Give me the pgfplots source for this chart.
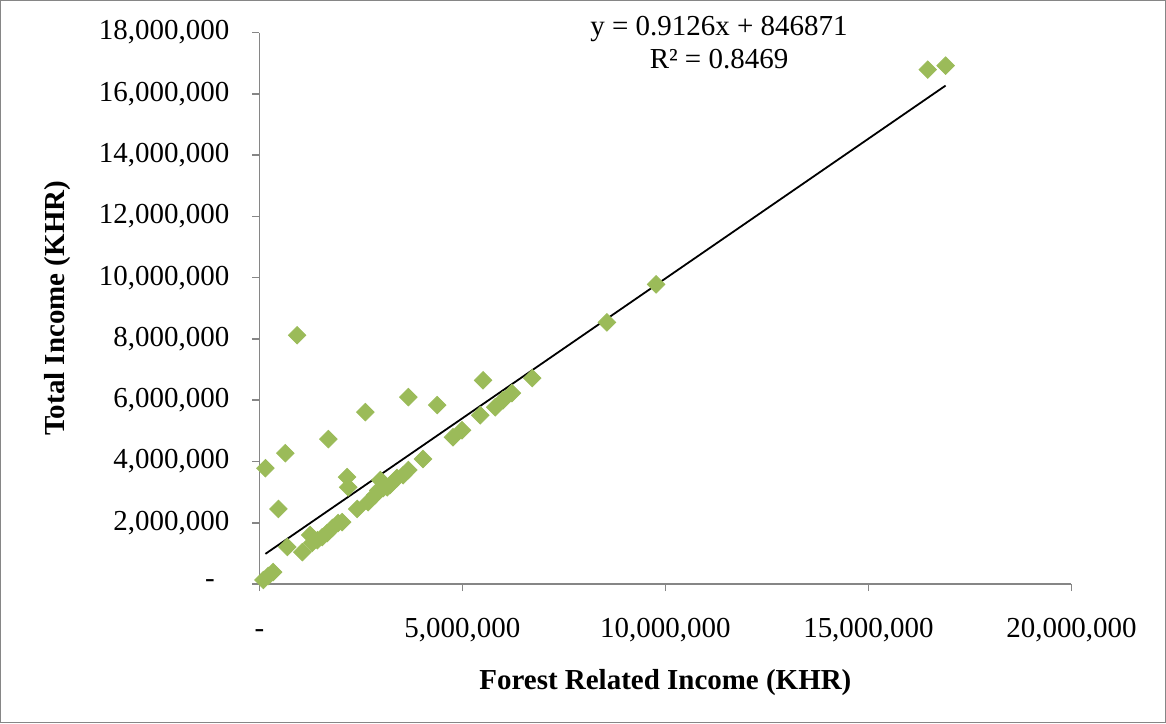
\documentclass[border=0pt]{standalone}
\usepackage{fontspec}
\setmainfont{Liberation Serif}
\usepackage{pgfplots}
\pgfplotsset{compat=1.18}
\definecolor{mkgreen}{RGB}{155,187,89}
\definecolor{axgray}{RGB}{134,134,134}
\begin{document}
\begin{tikzpicture}
  % chart area frame
  \draw[axgray, line width=0.6pt] (-129.5pt,-69.5pt) rectangle (453.5pt,292pt);
  \begin{axis}[
    scale only axis,
    width=406.5pt,
    height=276pt,
    xmin=0, xmax=20000000,
    ymin=0, ymax=18000000,
    axis lines*=left,
    axis line style={axgray, line width=0.8pt},
    tick style={axgray, line width=0.8pt},
    tick align=outside,
    major tick length=3.5pt,
    xtick={0,5000000,10000000,15000000,20000000},
    xticklabels={{\vphantom{0}-},{5,000,000},{10,000,000},{15,000,000},{20,000,000}},
    ytick={0,2000000,4000000,6000000,8000000,10000000,12000000,14000000,16000000,18000000},
    yticklabels={{\raisebox{-2pt}{-}\hphantom{0}},{2,000,000},{4,000,000},{6,000,000},{8,000,000},{10,000,000},{12,000,000},{14,000,000},{16,000,000},{18,000,000}},
    scaled ticks=false,
    tick label style={font=\fontsize{14.5}{17}\selectfont, black},
    xticklabel style={yshift=-10pt},
    yticklabel style={xshift=-8pt},
    xlabel={Forest Related Income (KHR)},
    ylabel={Total Income (KHR)},
    label style={font=\fontsize{14.5}{17}\selectfont\bfseries},
    xlabel style={at={(axis description cs:0.5,-0.1793)}, anchor=center},
    ylabel style={at={(axis description cs:-0.2485,0.5)}, anchor=center},
    clip=false,
  ]
  \addplot[only marks, mark=square*, mark size=3.1pt,
           mark options={rotate=45, fill=mkgreen, draw=mkgreen}] coordinates {
    (100000, 130000)
    (220000, 260000)
    (340000, 390000)
    (150000, 3780000)
    (640000, 4270000)
    (930000, 8120000)
    (470000, 2450000)
    (690000, 1210000)
    (1060000, 1040000)
    (1250000, 1600000)
    (1300000, 1340000)
    (1430000, 1430000)
    (1550000, 1530000)
    (1670000, 1660000)
    (1800000, 1830000)
    (1940000, 1990000)
    (2040000, 2020000)
    (1700000, 4730000)
    (2160000, 3490000)
    (2190000, 3160000)
    (2410000, 2450000)
    (2610000, 5610000)
    (2680000, 2670000)
    (2850000, 2900000)
    (2930000, 3060000)
    (2980000, 3390000)
    (3050000, 3130000)
    (3150000, 3160000)
    (3220000, 3230000)
    (3390000, 3460000)
    (3540000, 3550000)
    (3670000, 3720000)
    (3670000, 6100000)
    (4380000, 5840000)
    (4030000, 4080000)
    (4770000, 4790000)
    (4990000, 5020000)
    (5440000, 5510000)
    (5510000, 6650000)
    (5810000, 5770000)
    (6000000, 6000000)
    (6220000, 6230000)
    (6720000, 6720000)
    (8560000, 8540000)
    (9770000, 9780000)
    (16460000, 16790000)
    (16900000, 16920000)
  };
  % linear trendline y = 0.9126x + 846871
  \addplot[black, line width=0.9pt] coordinates {
    (150000, 983761)
    (16900000, 16269811)
  };
  \node[font=\fontsize{14.5}{17}\selectfont, anchor=center] at (axis cs:11320000,18130000) {y = 0.9126x + 846871};
  \node[font=\fontsize{14.5}{17}\selectfont, anchor=center] at (axis cs:11320000,17150000) {R² = 0.8469};
  \end{axis}
\end{tikzpicture}
\end{document}
